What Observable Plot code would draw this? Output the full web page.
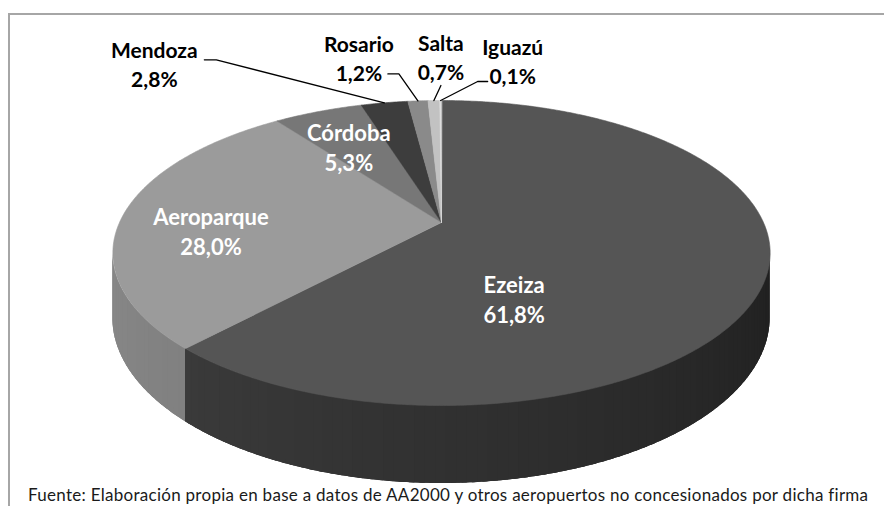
<!DOCTYPE html>
<html><head><meta charset="utf-8">
<script src="https://cdn.jsdelivr.net/npm/d3@7"></script>
<script src="https://cdn.jsdelivr.net/npm/@observablehq/plot@0.6"></script>
<style>
html,body{margin:0;padding:0;background:#fff;overflow:hidden;width:884px;height:506px;}
#frame{position:absolute;left:8px;top:13px;width:1000px;height:700px;border-left:2px solid #a6a6a6;border-top:2px solid #a6a6a6;box-sizing:border-box;}
#chart{position:absolute;left:0;top:0;}
#caption{position:absolute;left:28px;top:485px;font-family:Lato,sans-serif;font-size:17px;letter-spacing:0.28px;color:#1a1a1a;white-space:nowrap;line-height:20px;}
</style></head><body>
<div id="frame"></div>
<div id="chart"></div>
<div id="caption">Fuente: Elaboración propia en base a datos de AA2000 y otros aeropuertos no concesionados por dicha firma</div>
<script>
// ---- data ----
const categories = ["Ezeiza", "Aeroparque", "Córdoba", "Mendoza", "Rosario", "Salta", "Iguazú"];
const shares = [61.8, 28.0, 5.3, 2.8, 1.2, 0.7, 0.1];
const percentLabels = ["61,8%", "28,0%", "5,3%", "2,8%", "1,2%", "0,7%", "0,1%"];

// ---- styles / layout ----
const palette = {Ezeiza: "#555555", Aeroparque: "#9b9b9b", "Córdoba": "#777777", Mendoza: "#3d3d3d",
                 Rosario: "#8a8a8a", Salta: "#c2c2c2", "Iguazú": "#dedede"};
const W = 884, H = 506;
const margin = {left: 119, right: 121, top: 75.6, bottom: 137.6};
const pxPerX = (W - margin.left - margin.right) / 2;
const pxPerY = (H - margin.top - margin.bottom) / 2;
const K = 0.2;        // perspective strength
const DEPTH = 0.426;  // wall height (y units)
// label placement: inside labels relative to mid-angle point at radius r; outside relative to rim point (px)
const labelLayout = {
  "Ezeiza":     {inside: true, r: 0.65, dx: -132, dy: 40},
  "Aeroparque": {inside: true, r: 0.65, dx: -23, dy: 13},
  "Córdoba":    {inside: true, r: 0.65, dx: -8, dy: 0},
  "Mendoza":    {inside: false, dx: -230, dy: -40, leader: [[-168, -43], [-180, -43]]},
  "Rosario":    {inside: false, dx: -59, dy: -44, leader: [[-19, -27], [-30, -27]]},
  "Salta":      {inside: false, dx: 7, dy: -44, leader: [[7, -15]]},
  "Iguazú":     {inside: false, dx: 72, dy: -40, leader: [[37, -19], [47, -19]]}
};

// ---- geometry from the data ----
function project(theta, r = 1, drop = 0) {
  const u = r * Math.sin(theta), v = r * Math.cos(theta);
  const w = 1 + K * v;
  return {x: u / w, y: (-v + drop) / w};
}
const shift = (p, dxPx, dyPx) => ({x: p.x + dxPx / pxPerX, y: p.y + dyPx / pxPerY});

const table = categories.map((name, i) => ({name, share: shares[i], pct: percentLabels[i]}));
const arcs = d3.pie().sort(null).value(d => d.share).startAngle(0).endAngle(2 * Math.PI)(table);

const thetaR = Math.acos(-K), thetaL = 2 * Math.PI - thetaR;
const step = Math.PI / 360;

// top faces
const topPts = [];
for (const a of arcs) {
  const name = a.data.name, color = palette[name];
  topPts.push({name, color, ...project(0, 0)});
  const n = Math.max(2, Math.ceil((a.endAngle - a.startAngle) / step));
  for (let k = 0; k <= n; k++) {
    const t = a.startAngle + (a.endAngle - a.startAngle) * k / n;
    topPts.push({name, color, ...project(t, 1)});
  }
}

// front walls: a base band per slice, then shaded strips that overlap each other
function wallShade(base, theta) {
  const deg = theta * 180 / Math.PI;
  const delta = 19 + (258.5 - deg) * 0.22;
  const g = d3.rgb(base).r - delta;
  return d3.rgb(g, g, g).formatHex();
}
const wallBase = [], wallPts = [];
let sid = 0;
for (const a of arcs) {
  const lo = Math.max(a.startAngle, thetaR), hi = Math.min(a.endAngle, thetaL);
  if (hi <= lo) continue;
  const base = palette[a.data.name];
  const nb = Math.ceil((hi - lo) / step);
  for (let k = 0; k <= nb; k++) {
    const t = lo + (hi - lo) * k / nb;
    const top = project(t, 1), bot = project(t, 1, DEPTH);
    wallBase.push({name: a.data.name, color: wallShade(base, (lo + hi) / 2), x: top.x, y1: top.y, y2: bot.y});
  }
  const n = Math.max(1, Math.ceil((hi - lo) / (3 * step)));
  for (let k = 0; k < n; k++) {
    const t0 = lo + (hi - lo) * k / n;
    const t1 = Math.min(hi, lo + (hi - lo) * (k + 1) / n + 1.5 * step);
    const color = wallShade(base, (t0 + t1) / 2);
    for (let j = 0; j <= 4; j++) {
      const t = t0 + (t1 - t0) * j / 4;
      const top = project(t, 1), bot = project(t, 1, DEPTH);
      wallPts.push({id: sid, color, x: top.x, y1: top.y, y2: bot.y});
    }
    sid++;
  }
}

// labels and leaders
const insideLabels = [], outsideLabels = [], leaderPts = [];
for (const a of arcs) {
  const name = a.data.name, L = labelLayout[name];
  const mid = (a.startAngle + a.endAngle) / 2;
  const text = name + "\n" + a.data.pct;
  if (L.inside) {
    insideLabels.push({text, ...shift(project(mid, L.r), L.dx, L.dy)});
  } else {
    const rim = project(mid, 1);
    outsideLabels.push({text, ...shift(rim, L.dx, L.dy)});
    leaderPts.push({name, ...rim});
    for (const [dx, dy] of L.leader) leaderPts.push({name, ...shift(rim, dx, dy)});
  }
}

const chart = Plot.plot({
  width: W, height: H,
  marginLeft: margin.left, marginRight: margin.right, marginTop: margin.top, marginBottom: margin.bottom,
  x: {domain: [-1, 1], axis: null},
  y: {domain: [-1, 1], reverse: true, axis: null},
  color: {type: "identity"},
  style: {background: "transparent", overflow: "visible"},
  marks: [
    Plot.areaY(wallBase, {x: "x", y1: "y1", y2: "y2", z: "name", fill: "color"}),
    Plot.areaY(wallPts, {x: "x", y1: "y1", y2: "y2", z: "id", fill: "color"}),
    Plot.line(topPts, {x: "x", y: "y", z: "name", fill: "color", stroke: "color", strokeWidth: 0.6, curve: "linear-closed"}),
    Plot.line(leaderPts, {x: "x", y: "y", z: "name", stroke: "#000", strokeWidth: 1.3}),
    Plot.text(insideLabels, {x: "x", y: "y", text: "text", fill: "#fff", fontFamily: "Lato, sans-serif",
      fontWeight: "bold", fontSize: 22, lineHeight: 1.36}),
    Plot.text(outsideLabels, {x: "x", y: "y", text: "text", fill: "#000", fontFamily: "Lato, sans-serif",
      fontWeight: "bold", fontSize: 21, lineHeight: 1.38})
  ]
});
document.getElementById("chart").appendChild(chart);
</script>
</body></html>
